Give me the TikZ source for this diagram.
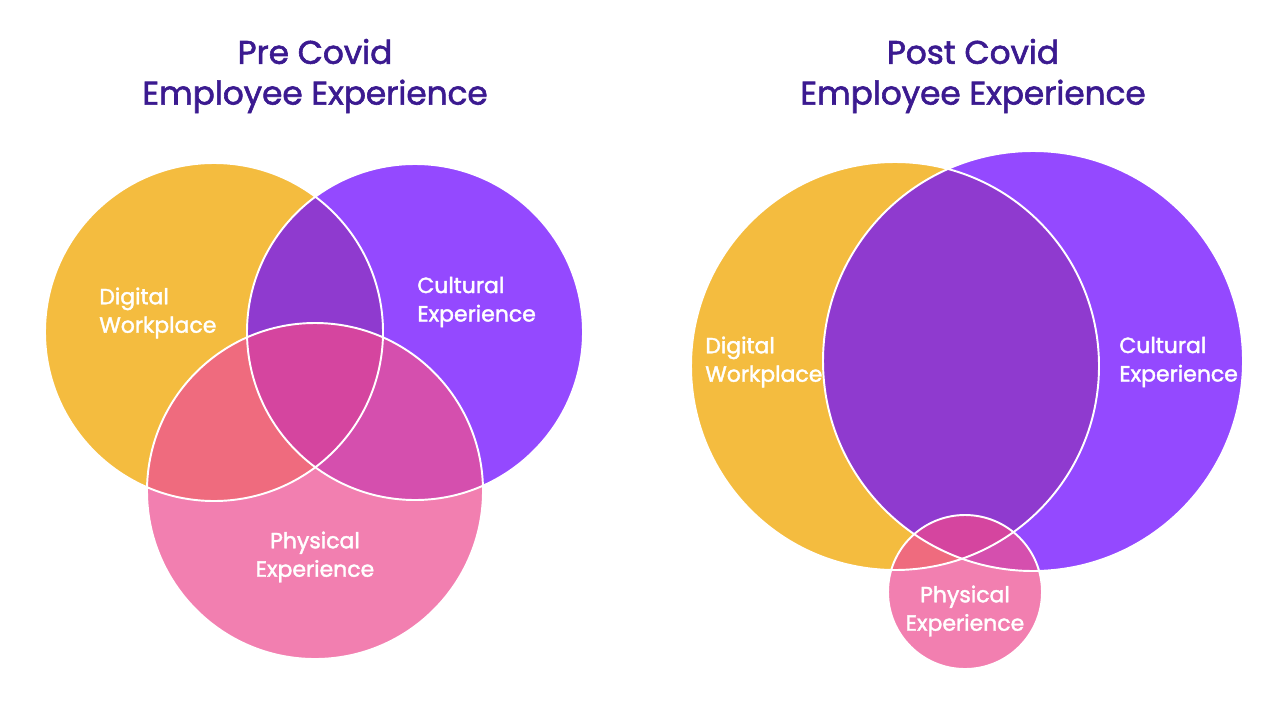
\documentclass[tikz,border=0pt]{standalone}
\usepackage{fontspec}
\setmainfont{Poppins}[BoldFont=Poppins, BoldFeatures={FakeBold=1.8}]

\definecolor{digyel}{HTML}{F4BC3F}
\definecolor{culpur}{HTML}{9449FF}
\definecolor{phypink}{HTML}{F27FB0}
\definecolor{dcmix}{HTML}{8F3ACF}
\definecolor{dpmix}{HTML}{EF6B7E}
\definecolor{cpmix}{HTML}{D54FAE}
\definecolor{allmix}{HTML}{D5459F}
\definecolor{headblue}{HTML}{3B1A90}

% circles of the two diagrams (pixel units)
\def\preD{(214,332) circle (169)}
\def\preC{(415,332) circle (168)}
\def\preP{(315,491) circle (168)}
\def\postD{(895,366) circle (204)}
\def\postC{(1033,361) circle (210)}
\def\postP{(965,592) circle (77)}

\begin{document}
\begin{tikzpicture}[x=0.02cm,y=-0.02cm,
  head/.style={text=headblue, font=\fontsize{18.6}{23.2}\selectfont\bfseries, align=center},
  lbl/.style={text=white, font=\fontsize{12.5}{16.2}\selectfont\bfseries, align=left, inner sep=0pt, anchor=west},
  ring/.style={draw=white, line width=1.1pt}]
\useasboundingbox[fill=white] (0,0) rectangle (1280,720);

% titles
\node[head] (pretitle) at (315,76) {Pre Covid\\Employee Experience};
\node[head] (posttitle) at (973,76) {Post Covid\\Employee Experience};

% pre covid venn
\fill[digyel] \preD;
\fill[culpur] \preC;
\fill[phypink] \preP;
\begin{scope}
  \clip \preD;
  \fill[dcmix] \preC;
  \fill[dpmix] \preP;
\end{scope}
\begin{scope}
  \clip \preC;
  \fill[cpmix] \preP;
\end{scope}
\begin{scope}
  \clip \preD; \clip \preC;
  \fill[allmix] \preP;
\end{scope}
\draw[ring] \preD;
\draw[ring] \preC;
\draw[ring] \preP;

% post covid venn
\fill[digyel] \postD;
\fill[culpur] \postC;
\fill[phypink] \postP;
\begin{scope}
  \clip \postD;
  \fill[dcmix] \postC;
  \fill[dpmix] \postP;
\end{scope}
\begin{scope}
  \clip \postC;
  \fill[cpmix] \postP;
\end{scope}
\begin{scope}
  \clip \postD; \clip \postC;
  \fill[allmix] \postP;
\end{scope}
\draw[ring] \postD;
\draw[ring] \postC;
\draw[ring] \postP;

% labels
\node[lbl] (predig) at (99,313) {Digital\\Workplace};
\node[lbl] (precul) at (417,302) {Cultural\\Experience};
\node[lbl, anchor=center, align=center] (prephy) at (315,557) {Physical\\Experience};
\node[lbl] (postdig) at (705,362) {Digital\\Workplace};
\node[lbl] (postcul) at (1119,362) {Cultural\\Experience};
\node[lbl, anchor=center, align=center] (postphy) at (965,611) {Physical\\Experience};

\end{tikzpicture}
\end{document}
